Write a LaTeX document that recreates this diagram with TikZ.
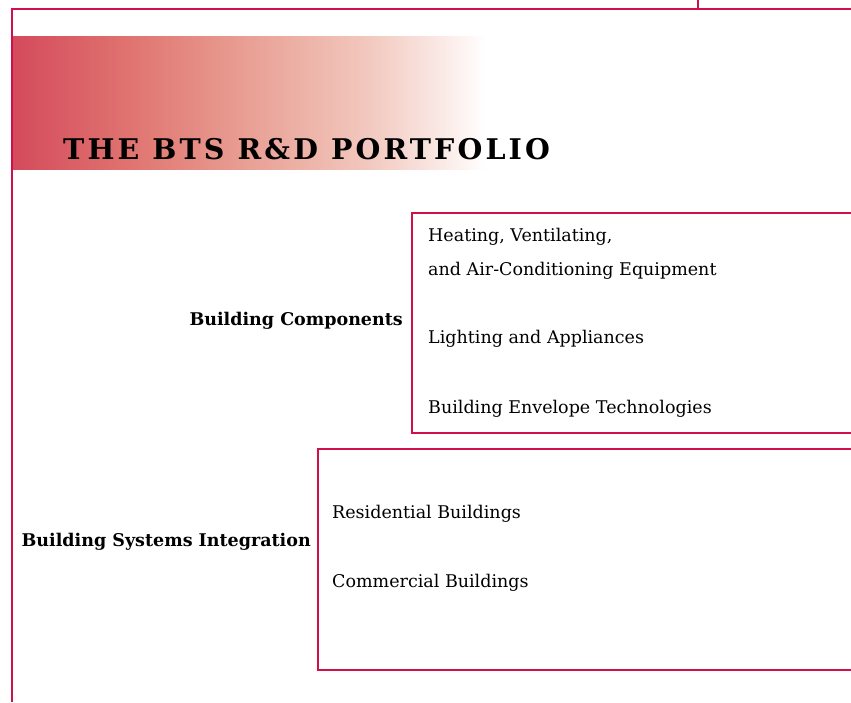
\documentclass[tikz,border=0pt]{standalone}
\usepackage{fontspec}
\setmainfont{DejaVu Serif}
\newfontfamily\titlefont[LetterSpace=11]{DejaVu Serif}
\usetikzlibrary{positioning}

\definecolor{btsred}{HTML}{D0104A}
\definecolor{bandA}{RGB}{212,74,92}
\definecolor{bandB}{RGB}{224,116,112}
\definecolor{bandC}{RGB}{233,160,149}
\definecolor{bandD}{RGB}{242,200,190}
\definecolor{bandE}{RGB}{250,232,228}
% the box is mapped onto 25bp..75bp of the shading
\pgfdeclarehorizontalshading{bandfade}{100bp}{%
  color(0bp)=(bandA); color(25bp)=(bandA); color(37.5bp)=(bandB);
  color(50bp)=(bandC); color(62.5bp)=(bandD); color(70bp)=(bandE);
  color(75bp)=(white); color(100bp)=(white)}

\begin{document}
\begin{tikzpicture}[x=1pt, y=-1pt,
    frame/.style={draw=btsred, line width=2.5pt},
    item/.style={anchor=base west, inner sep=0pt, font=\fontsize{17.5}{21}\selectfont},
    head/.style={anchor=base east, inner sep=0pt, font=\bfseries\fontsize{17.5}{21}\selectfont}]

  \useasboundingbox (0,0) rectangle (851,702);

  % Title band
  \shade[shading=bandfade] (12,36) rectangle (486,169);
  \node[anchor=base west, inner sep=0pt, font=\titlefont\bfseries\fontsize{28.5}{32}\selectfont] (title) at (63,159) {THE BTS R\&D PORTFOLIO};

  % Page frame
  \draw[frame] (12,702) -- (12,9) -- (851,9);
  \draw[btsred, line width=1.3pt] (698,0) -- (698,9);

  % Building components
  \draw[frame] (851,213) -- (412,213) -- (412,433) -- (851,433);
  \node[head] (comp) at (403,325) {Building Components};
  \node[item] (hvac) at (428,241) {Heating, Ventilating,};
  \node[item] (hvac2) at (428,275) {and Air-Conditioning Equipment};
  \node[item] (light) at (428,343) {Lighting and Appliances};
  \node[item] (env) at (428,413) {Building Envelope Technologies};

  % Building systems integration
  \draw[frame] (851,449) -- (318,449) -- (318,670) -- (851,670);
  \node[head] (sys) at (311,546) {Building Systems Integration};
  \node[item] (res) at (332,518) {Residential Buildings};
  \node[item] (com) at (332,587) {Commercial Buildings};

\end{tikzpicture}
\end{document}
